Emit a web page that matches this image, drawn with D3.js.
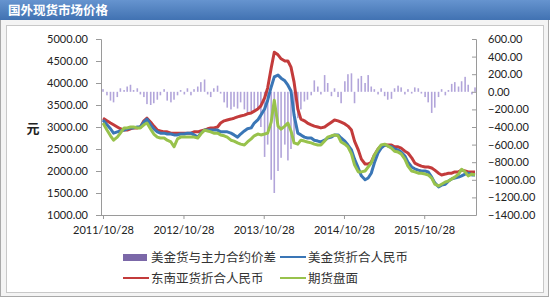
<!DOCTYPE html>
<html>
<head>
<meta charset="utf-8">
<script src="https://cdnjs.cloudflare.com/ajax/libs/d3/7.8.5/d3.min.js"></script>
<style>
  body { margin: 0; background: #fff; }
  svg { display: block; }
  .tick text { font-family: Lato, "Open Sans", sans-serif; font-size: 11px; fill: #222; }
  .cjk { font-family: "Noto Sans CJK SC", sans-serif; }
</style>
</head>
<body>
<div class="chart"></div>
<script>
/* global d3 */
const title = "国外现货市场价格";
const yUnit = "元";
const seriesNames = ["美金货与主力合约价差", "美金货折合人民币", "东南亚货折合人民币", "期货盘面"];
const xTickLabels = ["2011/10/28", "2012/10/28", "2013/10/28", "2014/10/28", "2015/10/28"];
const leftTicks = [1000, 1500, 2000, 2500, 3000, 3500, 4000, 4500, 5000];
const rightTicks = [-1400, -1200, -1000, -800, -600, -400, -200, 0, 200, 400, 600];

// semi-monthly sample dates
const dates = [
  "2011-10-28","2011-11-15","2011-12-01","2011-12-15",
  "2012-01-01","2012-01-15","2012-02-01","2012-02-15","2012-03-01","2012-03-15","2012-04-01","2012-04-15",
  "2012-05-01","2012-05-15","2012-06-01","2012-06-15","2012-07-01","2012-07-15","2012-08-01","2012-08-15",
  "2012-09-01","2012-09-15","2012-10-01","2012-10-15","2012-11-01","2012-11-15","2012-12-01","2012-12-15",
  "2013-01-01","2013-01-15","2013-02-01","2013-02-15","2013-03-01","2013-03-15","2013-04-01","2013-04-15",
  "2013-05-01","2013-05-15","2013-06-01","2013-06-15","2013-07-01","2013-07-15","2013-08-01","2013-08-15",
  "2013-09-01","2013-09-15","2013-10-01","2013-10-15","2013-11-01","2013-11-15","2013-12-01","2013-12-15",
  "2014-01-01","2014-01-15","2014-02-01","2014-02-15","2014-03-01","2014-03-15","2014-04-01","2014-04-15",
  "2014-05-01","2014-05-15","2014-06-01","2014-06-15","2014-07-01","2014-07-15","2014-08-01","2014-08-15",
  "2014-09-01","2014-09-15","2014-10-01","2014-10-15","2014-11-01","2014-11-15","2014-12-01","2014-12-15",
  "2015-01-01","2015-01-15","2015-02-01","2015-02-15","2015-03-01","2015-03-15","2015-04-01","2015-04-15",
  "2015-05-01","2015-05-15","2015-06-01","2015-06-15","2015-07-01","2015-07-15","2015-08-01","2015-08-15",
  "2015-09-01","2015-09-15","2015-10-01","2015-10-15","2015-11-01","2015-11-15","2015-12-01","2015-12-15",
  "2016-01-01","2016-01-15","2016-02-01","2016-02-15","2016-03-01","2016-03-15","2016-04-01","2016-04-15",
  "2016-05-01","2016-05-15","2016-06-01","2016-06-15"
];

// 美金货与主力合约价差 (right axis)
const spread = [
  30,-40,-100,-120,
  -60,40,20,60,80,20,40,-30,-60,-140,-150,-130,-90,-40,30,-100,-120,-90,-40,20,-30,40,-40,30,
  60,110,140,-30,-60,40,70,-20,-120,-180,-200,-170,-190,-120,-200,-240,-220,-230,-200,-400,-740,-600,-1000,-1150,
  -900,-750,-600,-780,-650,-550,-300,-200,-110,-90,-40,130,60,-30,190,100,-50,40,-60,-130,120,200,210,-130,
  150,180,100,190,60,30,-30,40,-50,-90,-80,40,70,50,-30,30,-20,50,40,-20,-60,-120,-240,-180,
  -60,30,-40,20,90,110,60,120,170,80,-30,50
];
// 美金货折合人民币
const usdGoods = [
  3160,3050,2960,2860,
  2890,2910,2930,2960,2980,2980,3000,3000,3110,3180,3050,2960,2890,2860,2860,2840,2840,2820,2820,2840,2840,2860,2860,2820,
  2770,2860,2930,2930,2930,2930,2930,2890,2890,2890,2860,2820,2770,2840,2910,2960,2980,3090,3160,3270,3410,3610,3910,4140,
  4180,4110,4050,3950,3820,3270,2860,2820,2770,2750,2750,2700,2680,2660,2700,2750,2770,2820,2820,2750,2680,2590,2480,2270,
  2070,1890,1800,1840,1950,2180,2410,2520,2590,2570,2550,2500,2480,2430,2340,2200,2090,2050,2020,2000,2000,1980,1860,1730,
  1640,1680,1700,1770,1820,1840,1860,1890,1930,1950,1910,1910
];
// 东南亚货折合人民币
const seaGoods = [
  3200,3140,3090,3050,
  3000,2960,2930,2930,2960,2980,2980,3000,3140,3200,3110,3020,2930,2910,2890,2890,2860,2860,2860,2860,2860,2860,2860,2890,
  2890,2910,2930,2960,2980,2980,3000,3090,3140,3160,3180,3200,3230,3250,3270,3300,3320,3360,3410,3480,3660,3890,4340,4700,
  4640,4550,4500,4500,4360,4020,3410,3180,3140,3090,3050,3020,3000,2980,3000,3050,3110,3160,3140,3110,3070,3020,2930,2680,
  2480,2270,2160,2160,2200,2360,2500,2570,2590,2590,2590,2550,2550,2520,2450,2410,2300,2180,2140,2110,2090,2090,2070,2020,
  1950,1910,1930,1950,1950,1980,1980,2020,2000,1980,1980,1980
];
// 期货盘面
const futures = [
  3090,2930,2800,2700,
  2770,2860,2980,2980,3000,3000,2980,2980,3050,3090,2950,2840,2770,2750,2750,2700,2660,2550,2730,2770,2770,2770,2770,2770,
  2750,2840,2930,2910,2890,2860,2860,2820,2800,2770,2700,2680,2640,2610,2590,2660,2730,2800,2840,2820,2840,2860,3110,3610,
  3020,2950,3020,3090,2910,2640,2610,2700,2680,2660,2640,2610,2590,2590,2680,2770,2800,2820,2800,2660,2610,2550,2390,2140,
  1980,1980,2000,2090,2180,2360,2500,2590,2610,2570,2520,2450,2430,2390,2270,2110,2000,1980,1950,1950,1930,1910,1840,1700,
  1660,1700,1750,1770,1820,1860,1930,2040,1980,1890,1930,1910
];

const colors = { spread: "#b2a5da", spreadKey: "#7b68a8", usd: "#3a76b6", sea: "#c33b3b", fut: "#98c24c" };
const width = 550, height = 300;
const plot = { left: 101, right: 476, top: 39, bottom: 215 };

const parse = d3.timeParse("%Y-%m-%d");
const parseLabel = d3.timeParse("%Y/%m/%d");
const days = dates.map(parse);

const svg = d3.select(".chart").append("svg")
    .attr("width", width)
    .attr("height", height);

// frame
svg.append("rect").attr("x", 0.5).attr("y", 0.5).attr("width", 548).attr("height", 296)
    .attr("fill", "#f4f4f4").attr("stroke", "#a9a9a9");
svg.append("rect").attr("x", 6.5).attr("y", 25.5).attr("width", 537).attr("height", 267)
    .attr("fill", "#fff").attr("stroke", "#c8c8c8");

// title bar
const grad = svg.append("defs").append("linearGradient").attr("id", "bar").attr("x1", 0).attr("y1", 0).attr("x2", 0).attr("y2", 1);
grad.append("stop").attr("offset", "0%").attr("stop-color", "#6694cf");
grad.append("stop").attr("offset", "100%").attr("stop-color", "#4172b2");
svg.append("rect").attr("x", 0).attr("y", 0).attr("width", width).attr("height", 20).attr("fill", "url(#bar)");
svg.append("text").attr("class", "cjk")
    .attr("x", 8).attr("y", 15)
    .attr("fill", "#fff").attr("font-size", "12.5px").attr("font-weight", "bold")
    .text(title);

// scales
const x = d3.scaleTime()
    .domain([parse("2011-10-28"), parse("2016-06-24")])
    .range([103, 477]);
const yLeft = d3.scaleLinear().domain([1000, 5000]).range([plot.bottom, plot.top]);
const yRight = d3.scaleLinear().domain([-1400, 600]).range([plot.bottom, plot.top]);

// spread bars, thin like the daily hairlines of the original
const barW = 1.6;
svg.append("g").selectAll("rect")
    .data(spread)
  .enter().append("rect")
    .attr("x", (d, i) => x(days[i]) - barW / 2)
    .attr("width", barW)
    .attr("y", d => Math.min(yRight(d), yRight(0)))
    .attr("height", d => Math.abs(yRight(d) - yRight(0)))
    .attr("fill", colors.spread);

// axes
const leftAxis = d3.axisLeft(yLeft).tickValues(leftTicks).tickSize(5).tickPadding(8)
    .tickFormat(d3.format(".2f"));
const rightAxis = d3.axisRight(yRight).tickValues(rightTicks).tickSize(-4).tickPadding(12)
    .tickFormat(d3.format(".2f"));
const bottomAxis = d3.axisBottom(x)
    .tickValues(xTickLabels.map(parseLabel))
    .tickSize(4).tickPadding(7)
    .tickFormat(d3.timeFormat("%Y/%m/%d"));

const gl = svg.append("g").attr("transform", "translate(" + plot.left + ",0)").call(leftAxis);
const gr = svg.append("g").attr("transform", "translate(" + plot.right + ",0)").call(rightAxis);
const gb = svg.append("g").attr("transform", "translate(0," + plot.bottom + ")").call(bottomAxis);
gb.select(".domain").attr("d", "M" + plot.left + ",0.5H" + plot.right);
[gl, gr, gb].forEach(g => {
  g.select(".domain").attr("stroke", "#9a9a9a");
  g.selectAll(".tick line").attr("stroke", "#9a9a9a");
});

// lines
const line = d3.line()
    .x((d, i) => x(days[i]))
    .y(d => yLeft(d));
[[seaGoods, colors.sea], [usdGoods, colors.usd], [futures, colors.fut]].forEach(s => {
  svg.append("path")
      .datum(s[0])
      .attr("d", line)
      .attr("fill", "none")
      .attr("stroke", s[1])
      .attr("stroke-width", 3)
      .attr("stroke-linejoin", "round");
});

// unit label
svg.append("text").attr("class", "cjk")
    .attr("x", 33).attr("y", 133)
    .attr("text-anchor", "middle")
    .attr("font-size", "13px").attr("font-weight", "bold").attr("fill", "#222")
    .text(yUnit);

// legend
const legend = svg.append("g").attr("class", "cjk").attr("font-size", "12.5px").attr("fill", "#333");
const keys = [
  { name: seriesNames[0], color: colors.spreadKey, box: true, col: 0, row: 0 },
  { name: seriesNames[1], color: colors.usd, col: 1, row: 0 },
  { name: seriesNames[2], color: colors.sea, col: 0, row: 1 },
  { name: seriesNames[3], color: colors.fut, col: 1, row: 1 }
];
keys.forEach(k => {
  const lx = k.col ? 280 : 123;
  const ly = k.row ? 278 : 257;
  if (k.box) {
    legend.append("rect").attr("x", lx).attr("y", ly - 3).attr("width", 24).attr("height", 7).attr("fill", k.color);
  } else {
    legend.append("line").attr("x1", lx).attr("x2", lx + 26).attr("y1", ly).attr("y2", ly)
        .attr("stroke", k.color).attr("stroke-width", 2);
  }
  legend.append("text").attr("x", lx + 28).attr("y", ly + 4.5).text(k.name);
});
</script>
</body>
</html>
